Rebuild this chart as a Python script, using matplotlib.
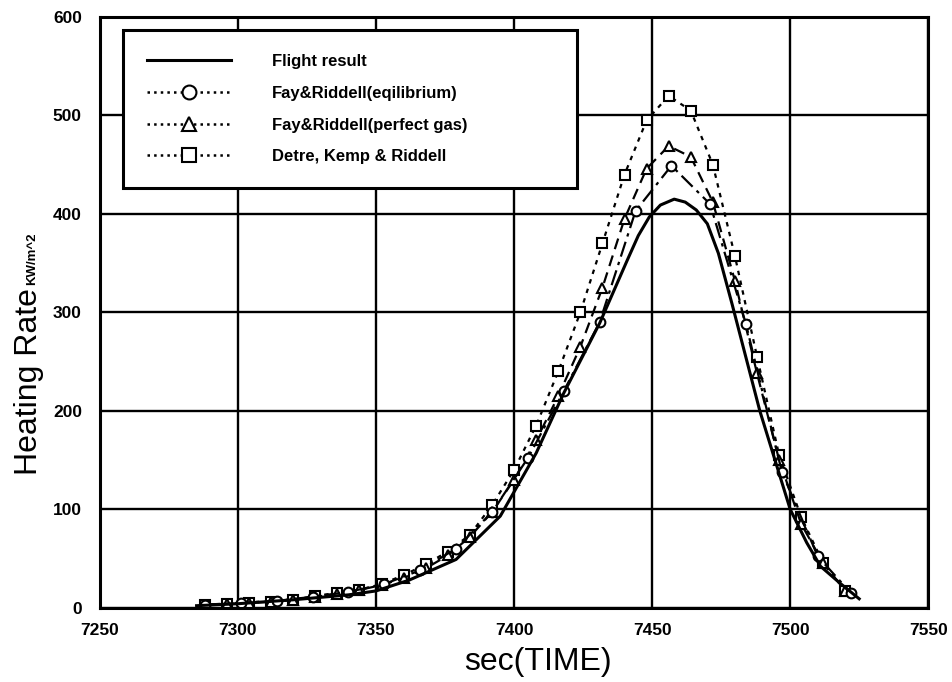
import numpy as np
import matplotlib.pyplot as plt
from matplotlib.lines import Line2D

# flight result (solid line)
flight_t = [7285, 7300, 7320, 7340, 7350, 7362, 7379, 7395, 7408, 7418, 7431, 7441,
            7445, 7449, 7453, 7458, 7462, 7466, 7470, 7474, 7479, 7484, 7489, 7500,
            7506, 7511, 7518, 7525]
flight_q = [2, 4, 8, 13, 17, 28, 49, 93, 157, 218, 289, 353,
            378, 397, 409, 415, 412, 404, 390, 360, 308, 254, 200, 100,
            66, 42, 25, 9]

# Fay&Riddell (equilibrium), circles
eq_t = [7288, 7301, 7314, 7327, 7340, 7353, 7366, 7379, 7392, 7405, 7418, 7431,
        7444, 7457, 7471, 7484, 7497, 7510, 7522]
eq_q = [3, 5, 7, 11, 16, 24, 38, 60, 97, 152, 220, 290,
        403, 449, 410, 288, 138, 52, 15]

# Fay&Riddell (perfect gas), triangles
pg_t = [7288, 7296, 7304, 7312, 7320, 7328, 7336, 7344, 7352, 7360, 7368, 7376, 7384,
        7392, 7400, 7408, 7416, 7424, 7432, 7440, 7448, 7456, 7464, 7472, 7480, 7488,
        7496, 7504, 7512, 7520]
pg_q = [3, 4, 5, 6, 8, 11, 14, 18, 23, 30, 40, 53, 72,
        97, 130, 170, 215, 265, 325, 395, 446, 469, 458, 412, 332, 238,
        150, 85, 45, 17]

# Detre, Kemp & Riddell, squares
dkr_t = [7288, 7296, 7304, 7312, 7320, 7328, 7336, 7344, 7352, 7360, 7368, 7376, 7384,
         7392, 7400, 7408, 7416, 7424, 7432, 7440, 7448, 7456, 7464, 7472, 7480, 7488,
         7496, 7504, 7512, 7520]
dkr_q = [3, 4, 5, 6, 8, 12, 15, 18, 24, 33, 44, 57, 74,
         104, 140, 185, 240, 300, 370, 440, 495, 520, 505, 450, 357, 255,
         155, 92, 45, 17]

xticks = [7250, 7300, 7350, 7400, 7450, 7500, 7550]
yticks = [0, 100, 200, 300, 400, 500, 600]

plain = ['Liberation Sans', 'DejaVu Sans']

fig = plt.figure(figsize=(9.52, 6.82), dpi=100)
ax = fig.add_axes([0.105, 0.109, 0.87, 0.866])

mk = dict(markerfacecolor='white', markeredgecolor='black', markeredgewidth=1.5, color='black')
ax.plot(dkr_t, dkr_q, linestyle=(0, (2, 2.5)), linewidth=1.6, marker='s', markersize=7, **mk)
ax.plot(pg_t, pg_q, linestyle=(0, (5, 3)), linewidth=1.6, marker='^', markersize=6.5, **mk)
ax.plot(eq_t, eq_q, linestyle=(0, (7, 2.5, 1.5, 2.5)), linewidth=1.6, marker='o', markersize=7, **mk)
ax.plot(flight_t, flight_q, color='black', linewidth=2.2)

ax.set_xlim(7250, 7550)
ax.set_ylim(0, 600)
ax.set_xticks(xticks)
ax.set_yticks(yticks)
ax.set_xticklabels([str(v) for v in xticks], family=plain, fontweight='bold', fontsize=12.5)
ax.set_yticklabels([str(v) for v in yticks], family=plain, fontweight='bold', fontsize=12.5)
ax.tick_params(axis='x', length=0, pad=11)
ax.tick_params(axis='y', length=0, pad=13)
ax.grid(True, color='black', linewidth=1.7)
ax.set_axisbelow(True)
for s in ax.spines.values():
    s.set_linewidth(2.2)

fig.text(0.565, 0.03, 'sec(TIME)', family=plain, fontsize=23, ha='center', va='center')
fig.text(0.03, 0.44, 'Heating Rate', family=plain, rotation=90, fontsize=23,
         ha='center', va='center')
fig.text(0.034, 0.62, 'KW/m^2', family=plain, rotation=90, fontsize=9.5, fontweight='bold',
         ha='center', va='center')

handles = [
    Line2D([], [], color='black', linewidth=2.2),
    Line2D([], [], linestyle=':', linewidth=1.8, marker='o', markersize=10, **mk),
    Line2D([], [], linestyle=':', linewidth=1.8, marker='^', markersize=10, **mk),
    Line2D([], [], linestyle=':', linewidth=1.8, marker='s', markersize=10, **mk),
]
labels = ['Flight result', 'Fay&Riddell(eqilibrium)', 'Fay&Riddell(perfect gas)',
          'Detre, Kemp & Riddell']
leg = ax.legend(handles, labels, loc='upper left',
                bbox_to_anchor=(0.028, 0.707, 0.548, 0.271), mode='expand',
                handlelength=5.0, handletextpad=2.5, borderpad=1.45, labelspacing=1.0,
                borderaxespad=0, fancybox=False, framealpha=1, edgecolor='black',
                numpoints=1, prop={'family': plain, 'weight': 'bold', 'size': 12})
leg.get_frame().set_linewidth(2.2)

fig.savefig('out.png', dpi=100)
